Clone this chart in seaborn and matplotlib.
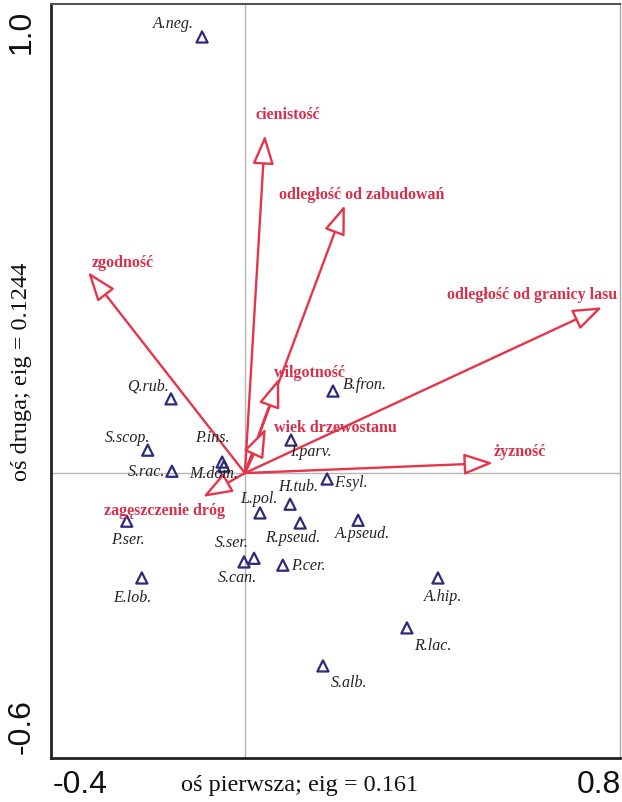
import matplotlib
matplotlib.use("Agg")
import matplotlib.pyplot as plt
import matplotlib.transforms as mtransforms
import seaborn as sns
import pandas as pd

# ---- data ----
species = ["A.neg.", "Q.rub.", "S.scop.", "S.rac.", "P.ins.", "M.dom.", "B.fron.",
           "I.parv.", "F.syl.", "H.tub.", "L.pol.", "R.pseud.", "A.pseud.", "P.ser.",
           "E.lob.", "S.ser.", "S.can.", "P.cer.", "A.hip.", "R.lac.", "S.alb."]
sp_x = [-0.094, -0.162, -0.213, -0.160, -0.050, -0.046, 0.193,
        0.101, 0.180, 0.099, 0.033, 0.121, 0.248, -0.259,
        -0.226, 0.020, -0.002, 0.083, 0.423, 0.355, 0.171]
sp_y = [0.952, 0.162, 0.050, 0.004, 0.024, 0.015, 0.179,
        0.072, -0.013, -0.068, -0.087, -0.109, -0.103, -0.105,
        -0.229, -0.186, -0.194, -0.201, -0.229, -0.338, -0.421]

env = ["cienistość", "odległość od zabudowań", "zgodność", "odległość od granicy lasu",
       "wilgotność", "wiek drzewostanu", "żyzność", "zagęszczenie dróg"]
env_x = [0.044, 0.219, -0.344, 0.783, 0.075, 0.046, 0.544, -0.092]
env_y = [0.738, 0.585, 0.439, 0.362, 0.207, 0.098, 0.022, -0.052]

xticks = [-0.4, -0.2, 0.0, 0.2, 0.4, 0.6, 0.8]
xticklabels = ["-0.4", "", "", "", "", "", "0.8"]
yticks = [-0.6, -0.4, -0.2, 0.0, 0.2, 0.4, 0.6, 0.8, 1.0]
yticklabels = ["-0.6", "", "", "", "", "", "", "", "1.0"]
xlabel = "oś pierwsza; eig = 0.161"
ylabel = "oś druga; eig = 0.1244"

# ---- layout (pixel offsets of labels) ----
sp_off = {"A.neg.": (-29, 13), "Q.rub.": (-23, 12), "S.scop.": (-20, 12),
          "S.rac.": (-25, -1), "P.ins.": (-10, 24), "M.dom.": (-10, -8),
          "B.fron.": (32, 6), "I.parv.": (20, -12), "F.syl.": (24, -4),
          "H.tub.": (8, 17), "L.pol.": (-1, 14), "R.pseud.": (-7, -15),
          "A.pseud.": (4, -14), "P.ser.": (1, -19), "E.lob.": (-9, -20),
          "S.ser.": (-22, 15), "S.can.": (-7, -16), "P.cer.": (26, -1),
          "A.hip.": (5, -19), "R.lac.": (26, -18), "S.alb.": (26, -17)}
env_off = [(23, 20), (17, 10), (35, 9), (-70, 12), (31, 5), (70, 0), (27, 11), (-38, -14)]

RED = "#e6354b"
RED_TXT = "#d8304b"
NAVY = "#2b2b78"
SERIF = ["Liberation Serif", "DejaVu Serif"]
SANS = ["Liberation Sans", "DejaVu Sans"]

sns.set_theme(style="white")
plt.rcParams["font.family"] = SANS

fig = plt.figure(figsize=(6.22, 8.02), dpi=100)
ax = fig.add_axes([51 / 622, 44 / 802, 569 / 622, 754 / 802])
ax.set_xlim(-0.425, 0.822)
ax.set_ylim(-0.622, 1.024)

ax.axhline(0, color="#b5b5b5", lw=1.0, zorder=1)
ax.axvline(0, color="#b5b5b5", lw=1.0, zorder=1)

df = pd.DataFrame({"x": sp_x, "y": sp_y, "sp": species})
sns.scatterplot(data=df, x="x", y="y", marker="^", s=64, facecolor="none",
                edgecolor=NAVY, linewidth=1.6, ax=ax, zorder=3, legend=False)
for name, x, y in zip(species, sp_x, sp_y):
    dx, dy = sp_off[name]
    ax.annotate(name, (x, y), xytext=(dx, dy), textcoords="offset pixels",
                ha="center", va="center", fontsize=11.5, style="italic",
                family=SERIF, color="#222222", zorder=4)

for name, x, y, (dx, dy) in zip(env, env_x, env_y, env_off):
    ax.annotate("", xy=(x, y), xytext=(0, 0),
                arrowprops=dict(arrowstyle="-|>,head_length=1.5,head_width=0.55",
                                color=RED, fc="white", lw=1.7,
                                shrinkA=0, shrinkB=0), zorder=2)
    ax.annotate(name, (x, y), xytext=(dx, dy), textcoords="offset pixels",
                ha="center", va="center", fontsize=11.5, fontweight="bold",
                family=SERIF, color=RED_TXT, zorder=4)

ax.set_xticks(xticks)
ax.set_xticklabels(xticklabels, fontsize=23, family=SANS)
ax.set_yticks(yticks)
ax.set_yticklabels(yticklabels, fontsize=23, family=SANS, rotation=90)
ax.tick_params(axis="both", direction="inout", length=9, width=1.5,
               color="#222222", labelcolor="#111111")
ax.tick_params(axis="x", pad=4)
ax.tick_params(axis="y", pad=6)

# shift end labels inward
xl = ax.get_xticklabels()
xl[0].set_ha("left")
xl[0].set_transform(xl[0].get_transform() + mtransforms.ScaledTranslation(-10 / 100, 0, fig.dpi_scale_trans))
xl[-1].set_ha("right")
xl[-1].set_transform(xl[-1].get_transform() + mtransforms.ScaledTranslation(11 / 100, 0, fig.dpi_scale_trans))
yl = ax.get_yticklabels()
yl[0].set_va("bottom")
yl[0].set_transform(yl[0].get_transform() + mtransforms.ScaledTranslation(0, -6 / 100, fig.dpi_scale_trans))
yl[-1].set_va("top")
yl[-1].set_transform(yl[-1].get_transform() + mtransforms.ScaledTranslation(0, 5 / 100, fig.dpi_scale_trans))

for side in ["left", "bottom"]:
    ax.spines[side].set_color("#222222")
    ax.spines[side].set_linewidth(2.0)
ax.spines["top"].set_color("#555555")
ax.spines["top"].set_linewidth(1.5)
ax.spines["right"].set_color("#aaaaaa")
ax.spines["right"].set_linewidth(1.0)

ax.set_xlabel("")
ax.set_ylabel("")
fig.text(300 / 622, 1 - 785 / 802, xlabel, ha="center", va="center",
         fontsize=17.5, family=SERIF, color="#111111")
fig.text(22 / 622, 1 - 372 / 802, ylabel, ha="center", va="center", rotation=90,
         fontsize=17.5, family=SERIF, color="#111111")

fig.savefig("out.png", dpi=100)
